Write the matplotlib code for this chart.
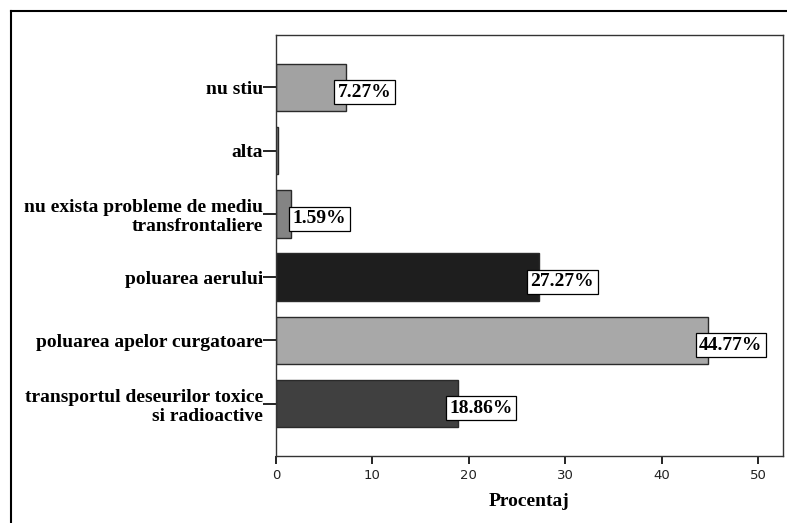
import numpy as np
import matplotlib
matplotlib.use('Agg')
from matplotlib import pyplot as plt
from matplotlib.lines import Line2D

categories = ['nu stiu', 'alta', 'nu exista probleme de mediu\ntransfrontaliere',
              'poluarea aerului', 'poluarea apelor curgatoare',
              'transportul deseurilor toxice\nsi radioactive']
values = [7.27, 0.24, 1.59, 27.27, 44.77, 18.86]
labels = ['7.27%', None, '1.59%', '27.27%', '44.77%', '18.86%']
colors = ['#a2a2a2', '#8c8c8c', '#848484', '#1e1e1e', '#a8a8a8', '#404040']
xticks = [0, 10, 20, 30, 40, 50]

serif = ['Liberation Serif', 'DejaVu Serif']

fig = plt.figure(figsize=(7.87, 5.23), dpi=100)
# outer frame (top and left edges only visible)
fig.add_artist(Line2D([11 / 787, 1], [1 - 11 / 523, 1 - 11 / 523],
                      transform=fig.transFigure, color='black', lw=1.5))
fig.add_artist(Line2D([11 / 787, 11 / 787], [0, 1 - 11 / 523],
                      transform=fig.transFigure, color='black', lw=1.5))

ax = fig.add_axes([276 / 787, 67 / 523, 507 / 787, 421 / 523])
y = np.arange(len(categories))
ax.barh(y, values, height=0.75, color=colors, edgecolor='#2a2a2a', linewidth=1.0)

for yi, v, lab in zip(y, values, labels):
    if lab is None:
        continue
    # small bars get the box just past the bar end
    dx = 1 if v < 3 else -6
    ax.annotate(lab, (v, yi), xytext=(dx, -3.5), textcoords='offset points',
                ha='left', va='center', fontsize=14, fontweight='bold',
                family=serif,
                bbox=dict(boxstyle='square,pad=0.18', fc='white', ec='black', lw=0.9))

ax.set_xlim(0, 52.6)
ax.set_ylim(len(categories) - 0.17, -0.83)
ax.set_xticks(xticks)
ax.set_yticks(y)
ax.set_yticklabels(categories, fontsize=14, fontweight='bold', family=serif,
                   linespacing=1.2)
ax.tick_params(axis='y', length=9.5, width=1.2, pad=0)
ax.tick_params(axis='x', length=6, width=1.2, labelsize=9.5, labelcolor='#222222')
for s in ax.spines.values():
    s.set_linewidth(1.0)
    s.set_color('#333333')
ax.set_xlabel('Procentaj', fontsize=14, fontweight='bold', family=serif, labelpad=8)

plt.savefig('out.png', dpi=100)
